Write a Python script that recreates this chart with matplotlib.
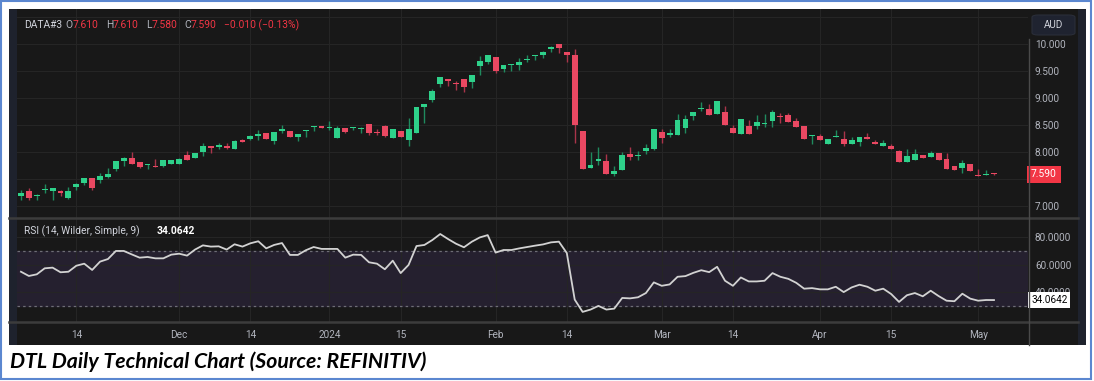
import numpy as np
import pandas as pd
import matplotlib
matplotlib.use('Agg')
import matplotlib.pyplot as plt
from matplotlib.patches import Rectangle, FancyBboxPatch
from matplotlib.lines import Line2D

# ---- data ----
start_date = '2023-11-03'
end_date = '2024-05-03'
asx_holidays = ['2023-12-25', '2023-12-26', '2024-01-01', '2024-01-26',
                '2024-03-29', '2024-04-01', '2024-04-25']

opens = [7.19, 7.28, 7.19, 7.29, 7.27, 7.27, 7.14, 7.36, 7.43, 7.52,
         7.49, 7.54, 7.68, 7.84, 7.88, 7.82, 7.76, 7.75, 7.75, 7.77,
         7.77, 7.95, 7.88, 8.00, 8.11, 8.10, 8.12, 8.06, 8.22, 8.25,
         8.30, 8.35, 8.20, 8.38, 8.39, 8.28, 8.39, 8.46, 8.49, 8.45,
         8.26, 8.45, 8.44, 8.42, 8.52, 8.37, 8.48, 8.26, 8.39, 8.22,
         8.35, 8.83, 8.96, 9.26, 9.36, 9.28, 9.35, 9.30, 9.60, 9.66,
         9.76, 9.54, 9.61, 9.61, 9.71, 9.78, 9.79, 9.90, 10.00, 9.86,
         9.80, 8.38, 7.71, 7.84, 7.84, 7.60, 7.67, 7.97, 7.92, 8.01,
         8.05, 8.37, 8.32, 8.31, 8.45, 8.66, 8.79, 8.79, 8.70, 8.75,
         8.45, 8.33, 8.48, 8.49, 8.52, 8.57, 8.66, 8.68, 8.57, 8.48,
         8.29, 8.30, 8.14, 8.27, 8.24, 8.14, 8.19, 8.28, 8.18, 8.12,
         8.11, 8.01, 7.82, 7.86, 7.94, 7.91, 7.99, 7.87, 7.74, 7.71,
         7.78, 7.58, 7.58, 7.61]
highs = [7.29, 7.33, 7.22, 7.40, 7.34, 7.30, 7.36, 7.42, 7.51, 7.52,
         7.62, 7.70, 7.83, 7.90, 8.00, 7.82, 7.78, 7.87, 7.86, 7.85,
         7.88, 8.01, 7.99, 8.16, 8.11, 8.17, 8.16, 8.23, 8.25, 8.31,
         8.41, 8.35, 8.37, 8.50, 8.39, 8.33, 8.41, 8.49, 8.49, 8.57,
         8.49, 8.45, 8.47, 8.46, 8.52, 8.42, 8.50, 8.42, 8.39, 8.63,
         8.84, 8.89, 9.16, 9.39, 9.36, 9.31, 9.35, 9.42, 9.77, 9.79,
         9.76, 9.61, 9.63, 9.74, 9.80, 9.80, 9.87, 9.97, 10.00, 9.86,
         9.90, 8.38, 8.00, 8.09, 7.97, 7.75, 8.00, 8.09, 8.02, 8.15,
         8.42, 8.42, 8.43, 8.71, 8.68, 8.74, 8.92, 8.88, 8.95, 8.85,
         8.50, 8.61, 8.59, 8.68, 8.71, 8.78, 8.73, 8.73, 8.63, 8.48,
         8.31, 8.34, 8.25, 8.40, 8.39, 8.28, 8.28, 8.36, 8.22, 8.22,
         8.14, 8.03, 8.05, 8.05, 7.94, 8.01, 7.99, 7.98, 7.74, 7.86,
         7.78, 7.68, 7.66, 7.61]
lows = [7.12, 7.12, 7.12, 7.25, 7.12, 7.19, 7.13, 7.30, 7.38, 7.29,
        7.42, 7.51, 7.65, 7.75, 7.78, 7.71, 7.69, 7.72, 7.73, 7.77,
        7.77, 7.85, 7.88, 7.93, 7.99, 8.05, 8.06, 8.06, 8.18, 8.23,
        8.22, 8.25, 8.15, 8.35, 8.28, 8.20, 8.27, 8.39, 8.45, 8.40,
        8.26, 8.35, 8.40, 8.36, 8.32, 8.31, 8.27, 8.26, 8.28, 8.12,
        8.35, 8.53, 8.93, 9.20, 9.22, 9.14, 9.11, 9.18, 9.42, 9.63,
        9.47, 9.49, 9.50, 9.51, 9.67, 9.70, 9.74, 9.85, 9.83, 9.66,
        8.17, 7.69, 7.71, 7.76, 7.60, 7.56, 7.67, 7.85, 7.86, 7.97,
        8.03, 8.17, 8.27, 8.31, 8.36, 8.59, 8.76, 8.69, 8.70, 8.50,
        8.36, 8.33, 8.33, 8.43, 8.47, 8.47, 8.54, 8.56, 8.46, 8.24,
        8.15, 8.22, 8.14, 8.27, 8.11, 8.14, 8.12, 8.24, 8.14, 8.12,
        8.05, 7.81, 7.82, 7.86, 7.88, 7.91, 7.85, 7.69, 7.66, 7.61,
        7.65, 7.56, 7.58, 7.58]
closes = [7.235, 7.14, 7.21, 7.32, 7.34, 7.24, 7.27, 7.40, 7.51, 7.34,
          7.56, 7.60, 7.83, 7.88, 7.78, 7.73, 7.78, 7.73, 7.86, 7.85,
          7.87, 7.85, 7.99, 8.11, 8.08, 8.13, 8.07, 8.21, 8.18, 8.30,
          8.33, 8.25, 8.37, 8.43, 8.28, 8.33, 8.41, 8.49, 8.45, 8.47,
          8.45, 8.37, 8.46, 8.44, 8.36, 8.35, 8.29, 8.42, 8.28, 8.42,
          8.84, 8.89, 9.13, 9.39, 9.31, 9.26, 9.21, 9.42, 9.68, 9.79,
          9.50, 9.61, 9.63, 9.67, 9.73, 9.80, 9.85, 9.94, 9.92, 9.79,
          8.50, 7.69, 7.76, 7.87, 7.60, 7.65, 7.94, 7.90, 7.95, 8.08,
          8.42, 8.26, 8.35, 8.59, 8.61, 8.74, 8.82, 8.69, 8.95, 8.50,
          8.36, 8.61, 8.33, 8.55, 8.53, 8.74, 8.64, 8.56, 8.46, 8.24,
          8.31, 8.23, 8.24, 8.29, 8.15, 8.22, 8.28, 8.24, 8.14, 8.17,
          8.05, 7.81, 7.92, 7.96, 7.88, 7.98, 7.85, 7.69, 7.66, 7.79,
          7.65, 7.56, 7.60, 7.59]
rsi = [54.8, 51.7, 52.9, 57.3, 57.8, 54.4, 54.8, 59.2, 60.7, 56.1,
       62.2, 64.1, 70.0, 70.0, 67.5, 65.1, 65.6, 64.6, 64.6, 67.3,
       68.0, 66.6, 71.0, 74.1, 73.2, 73.4, 71.0, 74.9, 73.2, 75.6,
       77.1, 71.9, 74.4, 75.8, 67.1, 67.1, 70.5, 72.9, 71.5, 71.5,
       71.5, 65.1, 67.3, 67.1, 61.7, 60.7, 56.6, 62.9, 53.8, 59.8,
       73.6, 74.4, 78.0, 82.4, 78.7, 75.3, 72.7, 76.8, 79.9, 81.6,
       68.8, 70.7, 70.7, 71.9, 72.9, 73.9, 74.8, 76.3, 76.8, 68.5,
       34.4, 25.4, 27.1, 29.8, 27.1, 27.8, 35.6, 35.3, 36.1, 39.2,
       47.0, 44.5, 45.5, 51.1, 51.6, 54.0, 55.9, 54.5, 58.4, 48.2,
       44.5, 50.6, 47.7, 47.7, 48.2, 53.8, 51.1, 49.6, 46.7, 42.4,
       42.8, 41.9, 41.9, 43.8, 39.9, 43.3, 45.3, 43.8, 40.9, 42.4,
       38.5, 32.7, 37.6, 39.2, 36.8, 40.9, 37.0, 33.6, 33.2, 38.7,
       35.1, 33.6, 34.1, 34.0642]

tick_dates = ['2023-11-14', '2023-12-01', '2023-12-14', '2024-01-02', '2024-01-15',
              '2024-02-01', '2024-02-14', '2024-03-01', '2024-03-14', '2024-04-02',
              '2024-04-15', '2024-05-01']
tick_labels = ['14', 'Dec', '14', '2024', '15', 'Feb', '14', 'Mar', '14', 'Apr', '15', 'May']

price_ticks = [7.0, 7.5, 8.0, 8.5, 9.0, 9.5, 10.0, 10.5]
rsi_ticks = [40, 60, 80]

# ---- style ----
BG = '#181818'
STRIP = '#1e222d'
GRID = '#252525'
UP = '#2ed18a'
DOWN = '#ea4862'
UP_WICK = '#1f8a5e'
DOWN_WICK = '#a9344a'
TXT = '#b2b5be'
RED = '#f23645'
FONT = ['Roboto', 'DejaVu Sans']

W, H = 1094, 381
fig = plt.figure(figsize=(W / 100, H / 100), dpi=100)
fig.patch.set_facecolor('white')


def fx(px):
    return px / W


def fy(py):
    return 1 - py / H


def fig_rect(x0, y0, x1, y1, **kw):
    fig.add_artist(Rectangle((fx(x0), fy(y1)), fx(x1) - fx(x0), fy(y0) - fy(y1),
                             transform=fig.transFigure, **kw))


def fig_line(x0, y0, x1, y1, **kw):
    fig.add_artist(Line2D([fx(x0), fx(x1)], [fy(y0), fy(y1)], transform=fig.transFigure, **kw))


# dark screenshot area
fig_rect(9, 9, 1086, 345, fc=BG, ec='none', zorder=0)
fig_rect(9, 9, 17, 345, fc=STRIP, ec='none', zorder=0)
fig_rect(1078, 9, 1086, 345, fc=STRIP, ec='none', zorder=0)
# blue frame around the whole picture
fig_rect(1, 1, 1091, 379, fc='none', ec='#5b87d0', lw=1.5, zorder=10)

dates = pd.bdate_range(start_date, end_date)
dates = dates[~dates.isin(pd.to_datetime(asx_holidays))]
x = np.arange(len(dates))
tick_pos = [dates.get_loc(pd.Timestamp(d)) for d in tick_dates]

o = np.array(opens)
h = np.array(highs)
l = np.array(lows)
c = np.array(closes)
up = c >= o

ax = fig.add_axes([fx(17), fy(218), fx(1028) - fx(17), fy(9) - fy(218)])
rax = fig.add_axes([fx(17), fy(322), fx(1028) - fx(17), fy(219) - fy(322)])

for a in (ax, rax):
    a.set_facecolor(BG)
    for s in a.spines.values():
        s.set_visible(False)
    a.set_xlim(-0.5, 127.3)
    a.set_xticks(tick_pos)
    a.grid(True, color=GRID, lw=0.8)
    a.set_axisbelow(True)
    a.yaxis.tick_right()
    a.tick_params(axis='both', length=0, colors=TXT, labelsize=7.2)

# candles
ax.vlines(x[up], l[up], h[up], color=UP_WICK, lw=1, zorder=2)
ax.vlines(x[~up], l[~up], h[~up], color=DOWN_WICK, lw=1, zorder=2)
body = np.maximum(np.abs(c - o), 0.012)
ax.bar(x[up], body[up], bottom=np.minimum(o, c)[up], width=0.74, color=UP, zorder=3)
ax.bar(x[~up], body[~up], bottom=np.minimum(o, c)[~up], width=0.74, color=DOWN, zorder=3)
ax.set_ylim(6.778, 10.648)
ax.set_yticks(price_ticks)
ax.set_yticklabels(['%.3f' % v if v < 10.4 else '' for v in price_ticks], family=FONT)
ax.tick_params(axis='y', pad=5)
ax.set_xticklabels([])

ax.text(1.003, closes[-1], '%.3f' % closes[-1], transform=ax.get_yaxis_transform(),
        ha='left', va='center', color='white', fontsize=7.4, family=FONT, zorder=20, clip_on=False,
        bbox=dict(boxstyle='square,pad=0.35', fc=RED, ec='none'))

# RSI
rax.axhspan(30, 70, color='#25202f', zorder=0.5)
rax.axhline(70, color='#6e6e76', lw=0.9, ls=(0, (2, 2.5)), zorder=1)
rax.axhline(30, color='#6e6e76', lw=0.9, ls=(0, (2, 2.5)), zorder=1)
rax.plot(x, rsi, color='#d2d2d2', lw=1.3, zorder=3)
rax.set_ylim(18.0, 93.4)
rax.set_yticks(rsi_ticks)
rax.set_yticklabels(['%.4f' % v for v in rsi_ticks], family=FONT)
rax.tick_params(axis='y', pad=5)
rax.set_xticklabels(tick_labels, family=FONT)
rax.tick_params(axis='x', pad=6)
rax.text(1.003, rsi[-1], '%.4f' % rsi[-1], transform=rax.get_yaxis_transform(),
         ha='left', va='center', color='black', fontsize=7.2, family=FONT, zorder=20, clip_on=False,
         bbox=dict(boxstyle='square,pad=0.3', fc='white', ec='none'))

# separators
fig_line(9, 218, 1078, 218, color='#3c3c3c', lw=1.8, zorder=5)
fig_line(9, 322, 1078, 322, color='#3c3c3c', lw=1.8, zorder=5)
fig_line(1029, 39, 1029, 345, color='#4a4a4a', lw=1.0, zorder=5)

# AUD button
fig.add_artist(FancyBboxPatch((fx(1032), fy(35)), fx(1075) - fx(1032), fy(15) - fy(35),
                              boxstyle='round,pad=0,rounding_size=0.006', transform=fig.transFigure,
                              fc='#1f2330', ec='#2a2e39', lw=0.8, zorder=6))
fig.text(fx(1053.5), fy(25), 'AUD', ha='center', va='center', color='#d1d4dc', fontsize=7.2,
         family=FONT, zorder=7)

# legend line on top
head = [(24, 'DATA#3', '#d1d4dc'), (65, 'O', '#b2b5be'), (73, '7.610', RED),
        (106, 'H', '#b2b5be'), (113, '7.610', RED), (146, 'L', '#b2b5be'),
        (152, '7.580', RED), (184, 'C', '#b2b5be'), (191, '7.590', RED),
        (224, '\u22120.010 (\u22120.13%)', RED)]
for px, s, col in head:
    fig.text(fx(px), fy(25), s, ha='left', va='center', color=col, fontsize=7.4, family=FONT)

fig.text(fx(24), fy(231.5), 'RSI (14, Wilder, Simple, 9)', ha='left', va='center',
         color='#d1d4dc', fontsize=7.4, family=FONT)
fig.text(fx(157), fy(231.5), '34.0642', ha='left', va='center', color='white',
         fontsize=7.4, fontweight='bold', family=FONT)

fig.text(fx(10), fy(362), 'DTL Daily Technical Chart (Source: REFINITIV)', ha='left', va='center',
         color='black', fontsize=15.3, fontweight='bold', style='italic', family=['Lato', 'DejaVu Sans'])

fig.savefig('out.png', dpi=100, facecolor='white')
